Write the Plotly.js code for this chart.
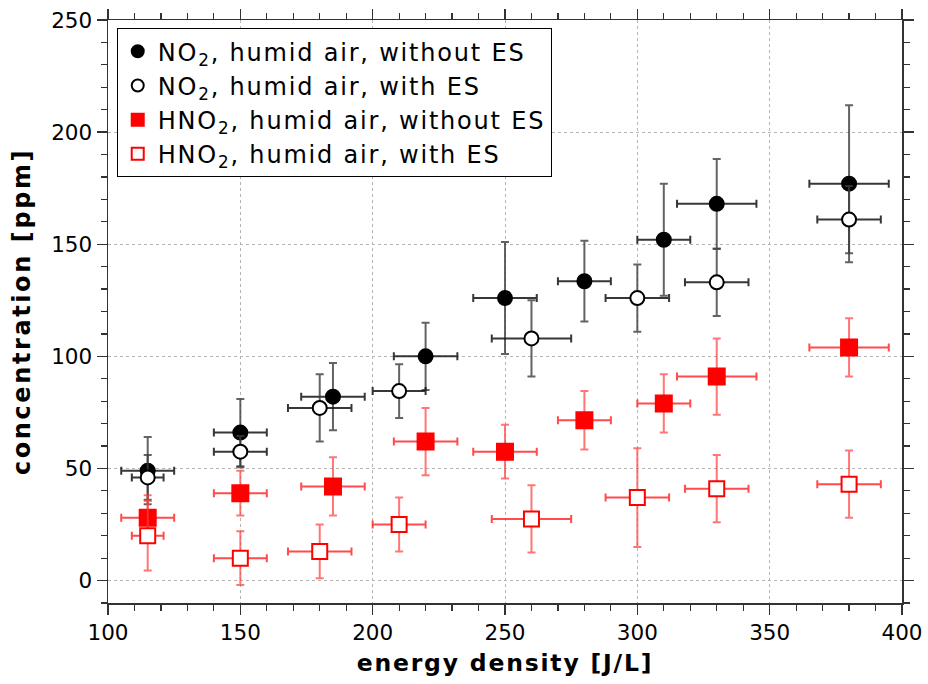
<!DOCTYPE html>
<html><head><meta charset="utf-8">
<script src="https://cdn.plot.ly/plotly-3.0.1.min.js"></script>
<style>
body{margin:0;background:#fff}
svg text.legendtext{letter-spacing:1.8px}
svg text.xtitle{letter-spacing:1.8px}
svg text.ytitle{letter-spacing:2.6px}
</style>
</head><body><div id="plot" style="width:928px;height:684px"></div>
<script>
// NO2, humid air, without ES
const no2WoX = [115, 150, 185, 220, 250, 280, 310, 330, 380];
const no2WoY = [49, 66, 82, 100, 126, 133.5, 152, 168, 177];
const no2WoEy = [15, 15, 15, 15, 25, 18, 25, 20, 35];
const no2WoEx = [10, 10, 12, 12, 12, 10, 10, 15, 15];
// NO2, humid air, with ES
const no2WX = [115, 150, 180, 210, 260, 300, 330, 380];
const no2WY = [46, 57.5, 77, 84.5, 108, 126, 133, 161];
const no2WEy = [10, 7, 15, 12, 17, 15, 15, 15];
const no2WEx = [6, 10, 12, 10, 15, 12, 12, 12];
// HNO2, humid air, without ES
const hno2WoX = [115, 150, 185, 220, 250, 280, 310, 330, 380];
const hno2WoY = [28, 39, 42, 62, 57.5, 71.5, 79, 91, 104];
const hno2WoEy = [10, 10, 13, 15, 12, 13, 13, 17, 13];
const hno2WoEx = [10, 10, 12, 12, 12, 10, 10, 15, 15];
// HNO2, humid air, with ES
const hno2WX = [115, 150, 180, 210, 260, 300, 330, 380];
const hno2WY = [20, 10, 13, 25, 27.5, 37, 41, 43];
const hno2WEy = [15.5, 12, 12, 12, 15, 22, 15, 15];
const hno2WEx = [6, 10, 12, 10, 15, 12, 12, 12];

const names = ['NO<sub>2</sub>, humid air, without ES', 'NO<sub>2</sub>, humid air, with ES',
  'HNO<sub>2</sub>, humid air, without ES', 'HNO<sub>2</sub>, humid air, with ES'];

function tr(x, y, ex, ey, name, sym, fill, line, ecolY, ecolX, size) {
  return {
    x: x, y: y, name: name, type: 'scatter', mode: 'markers',
    marker: {symbol: sym, size: size, color: fill, line: {color: line, width: 2}},
    error_y: {type: 'data', array: ey, visible: true, color: ecolY, thickness: 2, width: 4},
    error_x: {type: 'data', array: ex, visible: true, color: ecolX, thickness: 2, width: 4}
  };
}
const data = [
  tr(no2WoX, no2WoY, no2WoEx, no2WoEy, names[0], 'circle', '#000', '#000', 'rgba(60,60,60,0.8)', 'rgba(20,20,20,0.85)', 14),
  tr(no2WX, no2WY, no2WEx, no2WEy, names[1], 'circle', '#fff', '#000', 'rgba(60,60,60,0.8)', 'rgba(20,20,20,0.85)', 14),
  tr(hno2WoX, hno2WoY, hno2WoEx, hno2WoEy, names[2], 'square', '#ff0000', '#ff0000', 'rgba(255,60,60,0.7)', 'rgba(255,30,30,0.8)', 16),
  tr(hno2WX, hno2WY, hno2WEx, hno2WEy, names[3], 'square', '#fff', '#ff0000', 'rgba(255,60,60,0.7)', 'rgba(255,30,30,0.8)', 15)
];
const font = 'DejaVu Sans, sans-serif';
const axisCommon = {
  showline: true, linecolor: '#333', linewidth: 1.5, mirror: 'allticks',
  ticks: 'outside', ticklen: 10, tickwidth: 1.3, tickcolor: '#333',
  showgrid: true, gridcolor: '#b4b4b4', griddash: 'dot', gridwidth: 1,
  zeroline: false, tickfont: {family: font, size: 21.5, color: '#000'},
  minor: {dtick: 10, ticks: 'outside', ticklen: 6, tickwidth: 1.2, tickcolor: '#333', showgrid: false}
};
const layout = {
  width: 928, height: 684,
  margin: {l: 108, r: 26, t: 20, b: 81},
  paper_bgcolor: '#fff', plot_bgcolor: '#fff',
  font: {family: font, color: '#000'},
  showlegend: true,
  legend: {x: 0.011, y: 0.986, xanchor: 'left', yanchor: 'top', bgcolor: '#fff',
    bordercolor: '#000', borderwidth: 1, font: {family: font, size: 24, color: '#000'},
    tracegroupgap: 0, itemwidth: 30, itemsizing: 'constant'},
  xaxis: Object.assign({}, axisCommon, {range: [100, 400], dtick: 50, tick0: 100,
    title: {text: '<b>energy density [J/L]</b>', font: {family: font, size: 23.5, color: '#000'}, standoff: 10}}),
  yaxis: Object.assign({}, axisCommon, {range: [-10, 250], dtick: 50, tick0: 0,
    title: {text: '<b>concentration [ppm]</b>', font: {family: font, size: 24, color: '#000'}, standoff: 14}})
};
Plotly.newPlot('plot', data, layout, {displayModeBar: false, staticPlot: true});
</script></body></html>
